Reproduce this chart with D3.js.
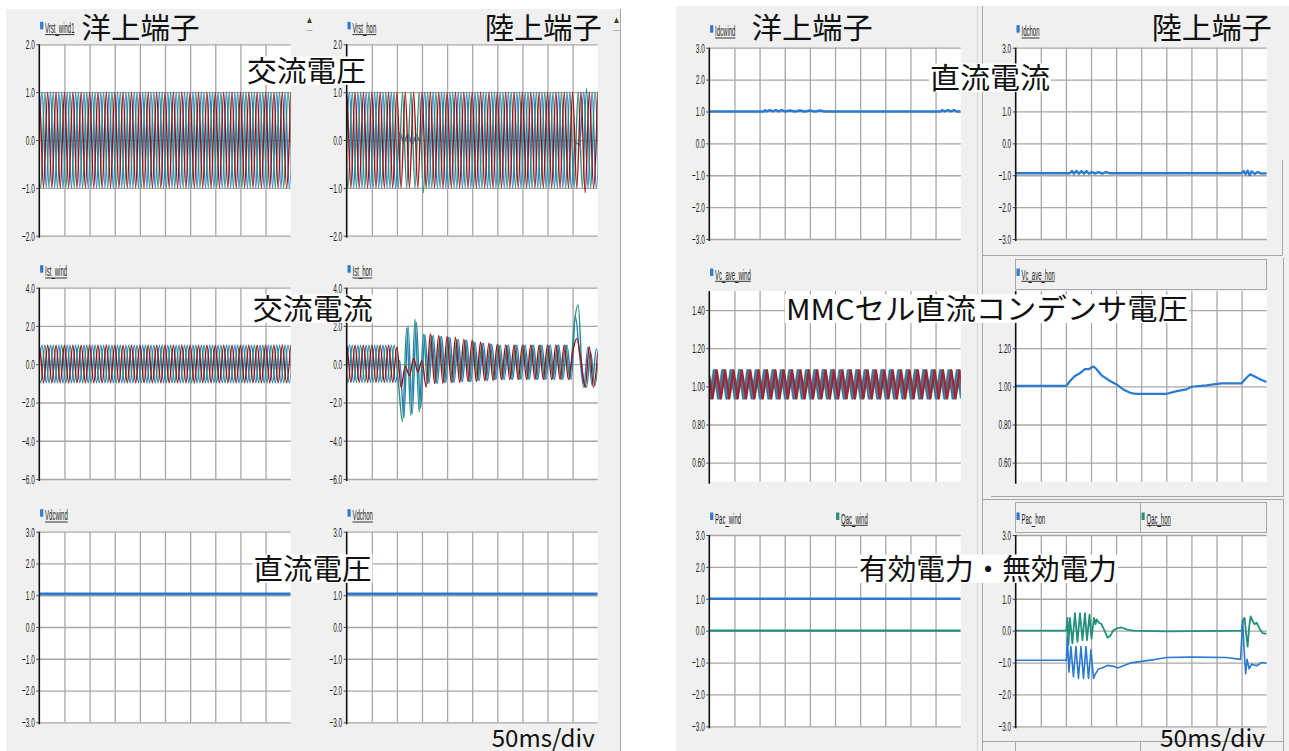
<!DOCTYPE html>
<html>
<head>
<meta charset="utf-8">
<script src="https://cdn.jsdelivr.net/npm/d3@7"></script>
<style>
body { margin: 0; background: #fff; }
svg { display: block; }
</style>
</head>
<body>
<svg width="1289" height="751"></svg>
<script>
// ---------- data ----------
const divTicks = [50, 100, 150, 200, 250, 300, 350, 400, 450];   // 50 ms/div
const HALF = 1000 / 120;   // ms between waveform extremes at 60 Hz

const terminalTitles = ["洋上端子", "陸上端子"];
const quantityLabels = ["交流電圧", "交流電流", "直流電圧", "直流電流", "MMCセル直流コンデンサ電圧", "有効電力・無効電力"];
const timeLabel = "50ms/div";

// offshore AC voltage, extremes of each phase (pu)
const vrstWindR = [
  -1,1,-1,1,-1,1,-1,1,-1,1,-1,1,-1,1,-1,1,-1,1,-1,1,
  -1,1,-1,1,-1,1,-1,1,-1,1,-1,1,-1,1,-1,1,-1,1,-1,1,
  -1,1,-1,1,-1,1,-1,1,-1,1,-1,1,-1,1,-1,1,-1,1,-1,1,
  -1,1];
const vrstWindG = [
  1,-1,1,-1,1,-1,1,-1,1,-1,1,-1,1,-1,1,-1,1,-1,1,-1,
  1,-1,1,-1,1,-1,1,-1,1,-1,1,-1,1,-1,1,-1,1,-1,1,-1,
  1,-1,1,-1,1,-1,1,-1,1,-1,1,-1,1,-1,1,-1,1,-1,1,-1,
  1,-1];
const vrstWindB = [
  -1,1,-1,1,-1,1,-1,1,-1,1,-1,1,-1,1,-1,1,-1,1,-1,1,
  -1,1,-1,1,-1,1,-1,1,-1,1,-1,1,-1,1,-1,1,-1,1,-1,1,
  -1,1,-1,1,-1,1,-1,1,-1,1,-1,1,-1,1,-1,1,-1,1,-1,1,
  -1,1];

// onshore AC voltage
const vrstHonR = [
  -1,1,-1,1,-1,1,-1,1,-1,1,-1,1,-1,1,-1,1,-1,1,-1,1,
  -1,1,-1,1,-1,1,-1,1,-1,1,-1,1,-1,1,-1,1,-1,1,-1,1,
  -1,1,-1,1,-1,1,-1,1,-1,1,-1,1,-1,1,-1,1,-1,1,-1.1,1,
  -1,1];
const vrstHonG = [
  1,-1,1,-1,1,-1,1,-1,1,-1,1,-1,1,-1,1,-1,1,-1,1,-1.1,
  1,-1,1,-1,1,-1,1,-1,1,-1,1,-1,1,-1,1,-1,1,-1,1,-1,
  1,-1,1,-1,1,-1,1,-1,1,-1,1,-1,1,-1,1,-1,1,-1,1.08,-1,
  1,-1];
const vrstHonB = [
  -1,1,-1,1,-1,1,-1,1,-1,1,-1,1,-1,0.15,-0.05,0.12,-0.08,0.1,-0.05,1,
  -1,1,-1,1,-1,1,-1,1,-1,1,-1,1,-1,1,-1,1,-1,1,-1,1,
  -1,1,-1,1,-1,1,-1,1,-1,1,-1,1,-1,1,-1,-0.05,-0.1,1,-1,1,
  -1,1];

// offshore AC current
const istWindR = [
  -0.97,1,-0.97,1,-0.97,1,-0.97,1,-0.97,1,-0.97,1,-0.97,1,-0.97,1,-0.97,1,-0.97,1,
  -0.97,1,-0.97,1,-0.97,1,-0.97,1,-0.97,1,-0.97,1,-0.97,1,-0.97,1,-0.97,1,-0.97,1,
  -0.97,1,-0.97,1,-0.97,1,-0.97,1,-0.97,1,-0.97,1,-0.97,1,-0.97,1,-0.97,1,-0.97,1,
  -0.97,1];
const istWindG = [
  1,-0.97,1,-0.97,1,-0.97,1,-0.97,1,-0.97,1,-0.97,1,-0.97,1,-0.97,1,-0.97,1,-0.97,
  1,-0.97,1,-0.97,1,-0.97,1,-0.97,1,-0.97,1,-0.97,1,-0.97,1,-0.97,1,-0.97,1,-0.97,
  1,-0.97,1,-0.97,1,-0.97,1,-0.97,1,-0.97,1,-0.97,1,-0.97,1,-0.97,1,-0.97,1,-0.97,
  1,-0.97];
const istWindB = istWindR.slice();

// onshore AC current (fault at 100 ms, recovery at 450 ms)
const istHonR = [
  -0.95,1,-0.95,1,-0.95,1,-0.95,1,-0.95,1,-0.95,1,-0.95,0.9,-1.2,-0.1,-0.6,0.3,-0.4,0.2,
  -1.2,1.6,-1.0,1.5,-1.0,1.45,-0.95,1.4,-0.95,1.3,-0.9,1.25,-0.9,1.15,-0.85,1.1,-0.85,1.05,-0.8,1.0,
  -0.8,1,-0.8,1,-0.8,1,-0.8,1,-0.8,1,-0.8,1,-0.8,1,-0.8,0.6,1.35,0.2,-1.2,0.9,
  -1.2,0.6];
const istHonG = [
  1,-0.95,1,-0.95,1,-0.95,1,-0.95,1,-0.95,1,-0.95,1,-0.9,-3.0,1.9,-2.7,2.35,-2.5,1.55,
  -1.0,1.5,-1.0,1.45,-0.95,1.4,-0.95,1.3,-0.9,1.25,-0.9,1.15,-0.85,1.1,-0.85,1.05,-0.8,1.0,-0.8,1.0,
  -0.8,1,-0.8,1,-0.8,1,-0.8,1,-0.8,1,-0.8,1,-0.8,1,-0.8,2.0,3.1,-0.5,-1.2,0.6,
  -1.1,0.8];
const istHonB = [
  -0.95,1,-0.95,1,-0.95,1,-0.95,1,-0.95,1,-0.95,1,-0.95,0.2,-2.8,2.0,-2.6,2.2,-2.3,1.55,
  -1.0,1.5,-1.0,1.45,-0.95,1.4,-0.95,1.3,-0.9,1.25,-0.9,1.15,-0.85,1.1,-0.85,1.05,-0.8,1.0,-0.8,1.0,
  -0.8,1,-0.8,1,-0.8,1,-0.8,1,-0.8,1,-0.8,1,-0.8,1,-0.8,2.5,0.5,-1.2,0.9,-1.1,
  0.8,-0.5];

// DC quantities [ms, pu]
const vdcWind = [[0, 1.04], [500, 1.04]];
const vdcHon = [[0, 1.04], [500, 1.04]];
const idcWind = [[0,1.0],[108,1.0],[111,1.04],[114,1.0],[120,1.04],[126,1.0],[132,1.04],[138,1.0],[144,1.04],
  [150,1.0],[160,1.03],[170,1.0],[180,1.03],[190,1.0],[200,1.03],[210,1.0],[220,1.03],[230,1.0],[246,1.0],
  [460,1.0],[463,1.04],[468,1.0],[475,1.04],[480,1.0],[487,1.04],[492,1.0],[500,1.0]];
const idcHon = [[0,-0.94],[108,-0.94],[112,-0.87],[116,-0.95],[121,-0.87],[126,-0.95],[131,-0.87],[136,-0.95],
  [141,-0.87],[146,-0.95],[152,-0.9],[158,-0.95],[165,-0.9],[172,-0.95],[180,-0.9],[188,-0.94],[450,-0.94],
  [454,-0.87],[458,-0.96],[462,-0.86],[466,-1.0],[470,-0.88],[476,-0.96],[482,-0.9],[490,-0.95],[500,-0.94]];

// MMC cell capacitor voltage
const vcWindCell = [
  1.085,0.935,1.085,0.935,1.085,0.935,1.085,0.935,1.085,0.935,1.085,0.935,1.085,0.935,1.085,0.935,1.085,0.935,1.085,0.935,
  1.085,0.935,1.085,0.935,1.085,0.935,1.085,0.935,1.085,0.935,1.085,0.935,1.085,0.935,1.085,0.935,1.085,0.935,1.085,0.935,
  1.085,0.935,1.085,0.935,1.085,0.935,1.085,0.935,1.085,0.935,1.085,0.935,1.085,0.935,1.085,0.935,1.085,0.935,1.085,0.935,
  1.085,0.935];
const vcCellShift = [0, 1.4, 2.8, 4.2, 5.6, 7.0];
const vcHon = [[0,1.003],[101,1.003],[108,1.028],[118,1.054],[128,1.069],[138,1.09],[145,1.09],[155,1.104],
  [161,1.09],[171,1.058],[188,1.028],[201,1.01],[214,0.984],[228,0.966],[238,0.961],[301,0.961],[321,0.975],
  [340,0.984],[350,0.998],[380,1.005],[410,1.016],[450,1.016],[457,1.037],[467,1.063],[480,1.046],[490,1.033],[500,1.023]];

// active / reactive power
const pacWind = [[0, 1.0], [500, 1.0]];
const qacWind = [[0, 0.0], [500, 0.0]];
const pacHon = [[0,-0.93],[101,-0.93],[103,-0.2],[106,-1.3],[110,-0.5],[115,-1.45],[120,-0.5],[125,-1.5],
  [130,-0.5],[135,-1.5],[140,-0.5],[145,-1.5],[150,-0.6],[155,-1.5],[158,-1.38],[165,-1.2],[172,-1.17],
  [183,-1.09],[195,-1.12],[203,-1.17],[230,-1.01],[275,-0.91],[300,-0.84],[350,-0.83],[420,-0.84],[448,-0.9],
  [452,0.3],[455,-0.6],[458,-1.35],[461,-0.9],[465,-1.2],[470,-1.05],[480,-1.1],[490,-1.0],[500,-1.02]];
const qacHon = [[0,0],[101,0],[103,0.4],[105,-0.45],[108,0.4],[113,-0.4],[118,0.55],[123,-0.35],[128,0.55],
  [133,-0.3],[138,0.55],[142,-0.3],[147,0.5],[151,-0.25],[156,0.4],[159,0.2],[161,0.35],[166,0.25],[171,0.2],
  [177,0.0],[183,-0.22],[189,-0.15],[194,0.0],[203,0.08],[211,0.1],[222,0.03],[234,0.0],[300,-0.02],[450,0.0],
  [453,0.35],[456,0.4],[459,-0.1],[462,-0.5],[465,0.1],[468,0.45],[472,0.3],[476,0.2],[480,0.25],[486,0.05],
  [492,-0.08],[500,-0.1]];

// ---------- drawing ----------
const svg = d3.select("svg");
const BLUE = "#2a7ad2", RED = "#9e1016", GREEN = "#22907a";
const cellColors = ["#27b3d0", "#2070c0", "#b5552f", "#2a9a9a", "#7e2a8a", "#a0282a"];

function wave(vals, t0) {
    return vals.map((v, i) => [t0 + i * HALF, v]);
}

// group backgrounds and frames
svg.append("rect").attr("x", 6).attr("y", 9).attr("width", 614).attr("height", 742).attr("fill", "#f0f0f0");
svg.append("rect").attr("x", 676).attr("y", 6).attr("width", 613).attr("height", 745).attr("fill", "#f0f0f0");
function frame(x1, y1, x2, y2, c) {
    svg.append("line").attr("x1", x1).attr("y1", y1).attr("x2", x2).attr("y2", y2)
        .attr("stroke", c || "#a6a6a6").attr("stroke-width", 1);
}
frame(620.5, 9, 620.5, 751);
frame(977.5, 6, 977.5, 751, "#d2d2d2");
frame(982.5, 6, 982.5, 751);
frame(982.5, 255.5, 1282.5, 255.5);
frame(1282.5, 160, 1282.5, 255.5);
frame(1283.5, 258, 1283.5, 497);
frame(991, 496.5, 1283.5, 496.5);
frame(982.5, 499.5, 1283.5, 499.5);
frame(1283.5, 499.5, 1283.5, 751);
frame(982.5, 741.5, 1283.5, 741.5);
frame(1015.5, 741.5, 1015.5, 751);
frame(1140.5, 741.5, 1140.5, 751);
svg.append("rect").attr("x", 1015.5).attr("y", 259.5).attr("width", 251).attr("height", 30)
    .attr("fill", "none").attr("stroke", "#a6a6a6");
svg.append("rect").attr("x", 1015.5).attr("y", 502.5).attr("width", 251).attr("height", 30)
    .attr("fill", "none").attr("stroke", "#a6a6a6");
frame(1140.5, 502.5, 1140.5, 532.5);

// little scroll markers of the left window
[309.5, 616.5].forEach(mx => {
    svg.append("path").attr("d", `M${mx - 2.5},23 L${mx},17.5 L${mx + 2.5},23 Z`).attr("fill", "#4a4020");
    svg.append("line").attr("x1", mx - 3).attr("x2", mx + 3).attr("y1", 30.5).attr("y2", 30.5).attr("stroke", "#b0b0b0");
});

function panel(p) {
    const g = svg.append("g");
    const x = d3.scaleLinear().domain([0, 500]).range([p.x0, p.x1]);
    const y = d3.scaleLinear().domain(p.dom).range([p.y1, p.y0]);
    const w = p.x1 - p.x0, h = p.y1 - p.y0;

    g.append("rect").attr("x", p.x0).attr("y", p.y0).attr("width", w).attr("height", h).attr("fill", "#fff");

    const hg = g.append("g").attr("transform", `translate(${p.x0},0)`)
        .call(d3.axisLeft(y).tickValues(p.ticks).tickSize(-w).tickSizeOuter(0).tickFormat(""));
    const vg = g.append("g").attr("transform", `translate(0,${p.y1})`)
        .call(d3.axisBottom(x).tickValues(divTicks).tickSize(-h).tickSizeOuter(0).tickFormat(""));
    [hg, vg].forEach(a => {
        a.select(".domain").remove();
        a.selectAll("line").attr("stroke", "#aaa6a2").attr("stroke-width", 1.3);
    });

    const clipId = "clip-" + p.id;
    g.append("clipPath").attr("id", clipId).append("rect")
        .attr("x", p.x0).attr("y", p.y0).attr("width", w).attr("height", h);

    p.series.forEach(s => {
        const line = d3.line().x(d => x(d[0])).y(d => y(d[1])).curve(s.curve || d3.curveLinear);
        g.append("path").attr("clip-path", `url(#${clipId})`)
            .attr("d", line(s.pts))
            .attr("fill", "none").attr("stroke", s.color).attr("stroke-width", s.w)
            .attr("stroke-linejoin", "round");
    });

    const ax = g.append("g").attr("transform", `translate(${p.x0},0)`)
        .call(d3.axisLeft(y).tickValues(p.ticks).tickSize(3).tickSizeOuter(0).tickFormat(d3.format(p.fmt)));
    ax.attr("font-family", "'Liberation Sans', Arial, sans-serif").attr("font-size", 13.5);
    ax.select(".domain").attr("stroke", "#111").attr("stroke-width", 1.6)
        .attr("d", `M0,${p.y0}V${p.y1 + 2}`);
    ax.selectAll(".tick line").attr("stroke", "#444");
    ax.selectAll(".tick text").attr("fill", "#1a1a1a").attr("x", -4.5 / 0.48).attr("transform", "scale(0.48,1)");

    // legend
    p.legend.forEach(l => {
        const lx = p.x0 + 0.8 + (l.dx || 0), ly = p.y0 - 22.5;
        g.append("rect").attr("x", lx).attr("y", ly).attr("width", 3.2).attr("height", 7.5).attr("fill", l.color);
        const t = g.append("text").attr("transform", `translate(${lx + 5},${ly + 11}) scale(0.4,1)`)
            .attr("font-family", "'Liberation Sans', Arial, sans-serif").attr("font-size", 15)
            .attr("fill", "#222").text(l.name);
        if (l.under) {
            const len = t.node().getComputedTextLength() * 0.4;
            g.append("line").attr("x1", lx + 5).attr("x2", lx + 5 + len)
                .attr("y1", ly + 12.8).attr("y2", ly + 12.8).attr("stroke", "#333").attr("stroke-width", 1);
        }
    });
}

const colA = [39.3, 290.7], colB = [346.7, 597.7], colC = [709.3, 960.7], colD = [1015.7, 1266.7];
const tk3 = [-3, -2, -1, 0, 1, 2, 3];
const ac = d3.curveMonotoneX;

function acSeries(r, gr, b, w) {
    return [
        { pts: wave(b, -HALF / 3), color: BLUE, w: w, curve: ac },
        { pts: wave(gr, -2 * HALF / 3), color: GREEN, w: w, curve: ac },
        { pts: wave(r, -HALF), color: RED, w: w, curve: ac }
    ];
}

// left window
panel({ id: "vw", x0: colA[0], x1: colA[1], y0: 44.3, y1: 235.7, dom: [-2, 2], ticks: [-2, -1, 0, 1, 2], fmt: ".1f",
    series: acSeries(vrstWindR, vrstWindG, vrstWindB, 1.4), legend: [{ name: "Vrst_wind1", color: BLUE, under: true }] });
panel({ id: "vh", x0: colB[0], x1: colB[1], y0: 44.3, y1: 235.7, dom: [-2, 2], ticks: [-2, -1, 0, 1, 2], fmt: ".1f",
    series: acSeries(vrstHonR, vrstHonG, vrstHonB, 1.4), legend: [{ name: "Vrst_hon", color: BLUE, under: true }] });
panel({ id: "iw", x0: colA[0], x1: colA[1], y0: 287.7, y1: 479, dom: [-6, 4], ticks: [-6, -4, -2, 0, 2, 4], fmt: ".1f",
    series: acSeries(istWindR, istWindG, istWindB, 1.4), legend: [{ name: "Ist_wind", color: BLUE, under: true }] });
panel({ id: "ih", x0: colB[0], x1: colB[1], y0: 287.7, y1: 479, dom: [-6, 4], ticks: [-6, -4, -2, 0, 2, 4], fmt: ".1f",
    series: acSeries(istHonR, istHonG, istHonB, 1.4), legend: [{ name: "Ist_hon", color: BLUE, under: true }] });
panel({ id: "dw", x0: colA[0], x1: colA[1], y0: 531.7, y1: 722.3, dom: [-3, 3], ticks: tk3, fmt: ".1f",
    series: [{ pts: vdcWind, color: BLUE, w: 2.8 }], legend: [{ name: "Vdcwind", color: BLUE, under: true }] });
panel({ id: "dh", x0: colB[0], x1: colB[1], y0: 531.7, y1: 722.3, dom: [-3, 3], ticks: tk3, fmt: ".1f",
    series: [{ pts: vdcHon, color: BLUE, w: 2.8 }], legend: [{ name: "Vdchon", color: BLUE, under: true }] });

// right window
panel({ id: "cw", x0: colC[0], x1: colC[1], y0: 47.7, y1: 239, dom: [-3, 3], ticks: tk3, fmt: ".1f",
    series: [{ pts: idcWind, color: BLUE, w: 2.4 }], legend: [{ name: "Idcwind", color: BLUE, under: true }] });
panel({ id: "ch", x0: colD[0], x1: colD[1], y0: 47.7, y1: 239, dom: [-3, 3], ticks: tk3, fmt: ".1f",
    series: [{ pts: idcHon, color: BLUE, w: 2.4 }], legend: [{ name: "Idchon", color: BLUE, under: true }] });
panel({ id: "mw", x0: colC[0], x1: colC[1], y0: 291, y1: 481.7, dom: [0.5, 1.5], ticks: [0.6, 0.8, 1.0, 1.2, 1.4], fmt: ".2f",
    series: vcCellShift.map((s, i) => ({ pts: wave(vcWindCell, -HALF + s), color: cellColors[i], w: 1.7, curve: d3.curveLinear })),
    legend: [{ name: "Vc_ave_wind", color: BLUE, under: true }] });
panel({ id: "mh", x0: colD[0], x1: colD[1], y0: 291, y1: 481.7, dom: [0.5, 1.5], ticks: [0.6, 0.8, 1.0, 1.2, 1.4], fmt: ".2f",
    series: [{ pts: vcHon, color: BLUE, w: 2.2 }], legend: [{ name: "Vc_ave_hon", color: BLUE, under: true }] });
panel({ id: "pw", x0: colC[0], x1: colC[1], y0: 535, y1: 726.3, dom: [-3, 3], ticks: tk3, fmt: ".1f",
    series: [{ pts: pacWind, color: BLUE, w: 2.4 }, { pts: qacWind, color: GREEN, w: 2.4 }],
    legend: [{ name: "Pac_wind", color: BLUE }, { name: "Qac_wind", color: GREEN, dx: 126, under: true }] });
panel({ id: "ph", x0: colD[0], x1: colD[1], y0: 535, y1: 726.3, dom: [-3, 3], ticks: tk3, fmt: ".1f",
    series: [{ pts: qacHon, color: GREEN, w: 1.8 }, { pts: pacHon, color: BLUE, w: 1.6 }],
    legend: [{ name: "Pac_hon", color: BLUE }, { name: "Qac_hon", color: GREEN, dx: 125, under: true }] });

// ---------- overlay captions ----------
function caption(str, x, baseline, len, anchor, size, box) {
    const g = svg.append("g");
    const t = g.append("text").attr("x", x).attr("y", baseline)
        .attr("font-family", "'Noto Sans CJK JP', 'Noto Sans', sans-serif")
        .attr("font-size", size).attr("fill", "#111")
        .attr("text-anchor", anchor || "start")
        .attr("textLength", len).attr("lengthAdjust", "spacingAndGlyphs")
        .text(str);
    if (box) {
        const x0 = anchor === "end" ? x - len : x;
        g.insert("rect", "text").attr("x", x0 - 1).attr("y", baseline - size * 0.88)
            .attr("width", len + 2).attr("height", size * 0.98).attr("fill", "#fff");
    }
}
caption(terminalTitles[0], 81.5, 39, 118, "start", 29, false);
caption(terminalTitles[1], 601.7, 39, 117, "end", 29, false);
caption(terminalTitles[0], 751.7, 39, 121, "start", 29, false);
caption(terminalTitles[1], 1271.7, 39, 120, "end", 29, false);

caption(quantityLabels[0], 247, 82, 119, "start", 29, true);
caption(quantityLabels[1], 252.7, 320, 120, "start", 29, true);
caption(quantityLabels[2], 253.5, 580, 118, "start", 29, true);
caption(quantityLabels[3], 930, 89, 120, "start", 29, true);
caption(quantityLabels[4], 786, 320, 402, "start", 29, true);
caption(quantityLabels[5], 859, 580, 258, "start", 29, true);

caption(timeLabel, 491.7, 747, 103, "start", 24, false);
caption(timeLabel, 1160, 747, 105, "start", 24, false);
</script>
</body>
</html>
